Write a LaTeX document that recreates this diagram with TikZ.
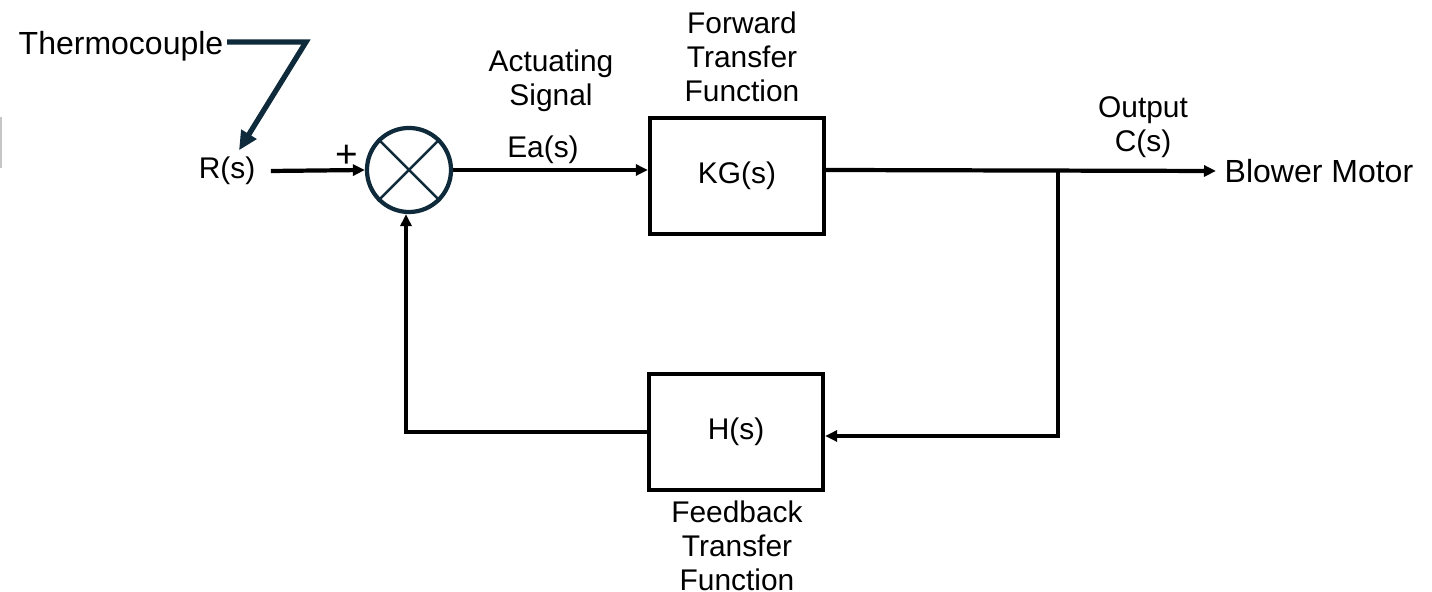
\documentclass[tikz,border=0pt]{standalone}
\usepackage{fontspec}
\setmainfont{Liberation Sans}
\usetikzlibrary{positioning,arrows.meta}
\definecolor{navy}{HTML}{0E2A3B}

\begin{document}
\begin{tikzpicture}[
  x=0.01cm, y=-0.01cm,
  >={Triangle[length=1.2mm,width=1.1mm]},
  block/.style={rectangle, draw=black, line width=1.2pt, minimum width=1.74cm, minimum height=1.16cm, font=\fontsize{8.5}{10}\selectfont},
  sumj/.style={circle, draw=navy, line width=1.2pt, minimum size=0.84cm, inner sep=0pt},
  lbl/.style={font=\fontsize{8.5}{9.7}\selectfont, align=center, inner sep=0pt},
  big/.style={font=\fontsize{9.1}{11}\selectfont, inner sep=0pt},
  sig/.style={line width=1.2pt}
]
\useasboundingbox (0,0) rectangle (1432,592);

% blocks
\node[lbl] (rs) at (227,171) {R(s)};
\node[sumj] (sum) at (409,170) {};
\node[block] (kg) at (737,176) {KG(s)};
\node[block] (hb) at (736,432) {H(s)};
\node[big, anchor=west] (bm) at (1224,171) {Blower Motor};
\node[big, anchor=east] (tc) at (224,46) {Thermocouple};
\coordinate (tcbend) at (306,42);
\coordinate (jn) at (1058,171);

% labels
\node[lbl, font=\fontsize{11}{12}\selectfont] (plus) at (347,156) {+};
\node[lbl] (ea) at (543,150) {Ea(s)};
\node[lbl] (act) at (551,81) {Actuating\\Signal};
\node[lbl] (fwd) at (742,57) {Forward\\Transfer\\Function};
\node[lbl] (out) at (1143,127) {Output\\C(s)};
\node[lbl] (fb) at (737,546) {Feedback\\Transfer\\Function};

% summing junction cross
\draw[navy, line width=0.7pt] (sum.north west) -- (sum.south east);
\draw[navy, line width=0.7pt] (sum.north east) -- (sum.south west);

% forward path
\draw[sig,->] ([xshift=0.15cm]rs.east) -- (sum.west);
\draw[sig,->] (sum.east) -- (sum.east -| kg.west);
\draw[sig,->] (sum.east -| kg.east) -- ([xshift=-0.08cm]bm.west);

% feedback path
\draw[sig,->] (jn) |- ([yshift=-0.04cm]hb.east);
\draw[sig,->] (hb.west) -| ([xshift=-0.03cm]sum.south);

% thermocouple pointer
\draw[navy, line width=1.5pt, -{Triangle[length=1.9mm,width=1.7mm]}] ([xshift=0.03cm]tc.east |- tcbend) -- (tcbend) -- ([xshift=0.12cm,yshift=0.06cm]rs.north);

% edge mark
\draw[gray!45, line width=0.7pt] (1,117) -- (1,168);

\end{tikzpicture}
\end{document}
